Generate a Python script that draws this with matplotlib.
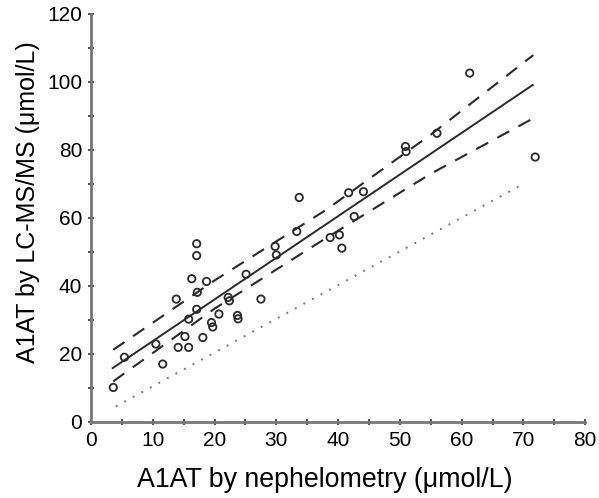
import numpy as np
import matplotlib.pyplot as plt
from matplotlib.ticker import MultipleLocator

plt.rcParams['font.family'] = ['Liberation Sans', 'DejaVu Sans']

# --- data ---
neph = [3.6, 5.4, 10.5, 11.6, 13.8, 14.1, 15.2, 15.8, 15.8, 16.3, 17.1, 17.1,
        17.2, 17.1, 18.1, 18.7, 19.5, 19.7, 20.7, 22.2, 22.4, 23.7, 23.8, 25.1,
        27.5, 29.8, 30.0, 33.3, 33.7, 38.7, 40.2, 40.6, 41.7, 42.6, 44.1, 50.9,
        51.0, 56.0, 61.3, 71.9]
lcms = [10.1, 19.0, 22.9, 17.0, 36.1, 21.9, 25.1, 21.9, 30.2, 42.1, 52.4, 48.9,
        38.1, 33.1, 24.8, 41.3, 29.2, 27.9, 31.7, 36.6, 35.6, 31.3, 30.3, 43.4,
        36.1, 51.6, 49.1, 56.0, 66.0, 54.2, 55.0, 51.1, 67.4, 60.4, 67.7, 81.0,
        79.5, 84.9, 102.6, 77.9]

# regression line and confidence band
fit_x = [3.5, 71.5]
fit_y = [15.8, 99.1]
band_x = [3.6, 20, 38, 55, 71.6]
band_upper = [21.2, 41.6, 62.3, 84.5, 107.9]
band_lower = [11.9, 33.3, 54.0, 73.0, 89.3]
# line of identity
ident_x = [4, 70]
ident_y = [4.5, 70]

fig = plt.figure(figsize=(5.99, 4.98), dpi=100)
ax = fig.add_axes([0.152, 0.153, 0.825, 0.819])

line_col = '#2a2a2a'
ax.plot(ident_x, ident_y, color='#777777', linestyle=(0, (1, 4)), linewidth=1.4)
ax.plot(band_x, band_upper, color=line_col, linestyle=(0, (6.5, 5)), linewidth=1.5)
ax.plot(band_x, band_lower, color=line_col, linestyle=(0, (6.5, 5)), linewidth=1.5)
ax.plot(fit_x, fit_y, color=line_col, linewidth=1.4)
ax.scatter(neph, lcms, s=28, facecolors='none', edgecolors=line_col, linewidths=1.3, zorder=3)

ax.set_xlim(0, 80)
ax.set_ylim(0, 120)
ax.xaxis.set_major_locator(MultipleLocator(10))
ax.xaxis.set_minor_locator(MultipleLocator(5))
ax.yaxis.set_major_locator(MultipleLocator(20))
ax.yaxis.set_minor_locator(MultipleLocator(10))

for side in ['top', 'right']:
    ax.spines[side].set_visible(False)
for side in ['left', 'bottom']:
    ax.spines[side].set_color('#777777')
    ax.spines[side].set_linewidth(2)
ax.tick_params(which='both', direction='inout', length=5, width=1.5, color='#555555',
               labelsize=15, pad=4)
ax.tick_params(which='minor', length=5)

ax.set_xlabel('A1AT by nephelometry (μmol/L)', fontsize=19.3, va='center')
ax.set_ylabel('A1AT by LC-MS/MS (μmol/L)', fontsize=18, va='center')
ax.xaxis.set_label_coords(0.472, -0.142)
ax.yaxis.set_label_coords(-0.128, 0.539)

fig.savefig('out.png', dpi=100)
